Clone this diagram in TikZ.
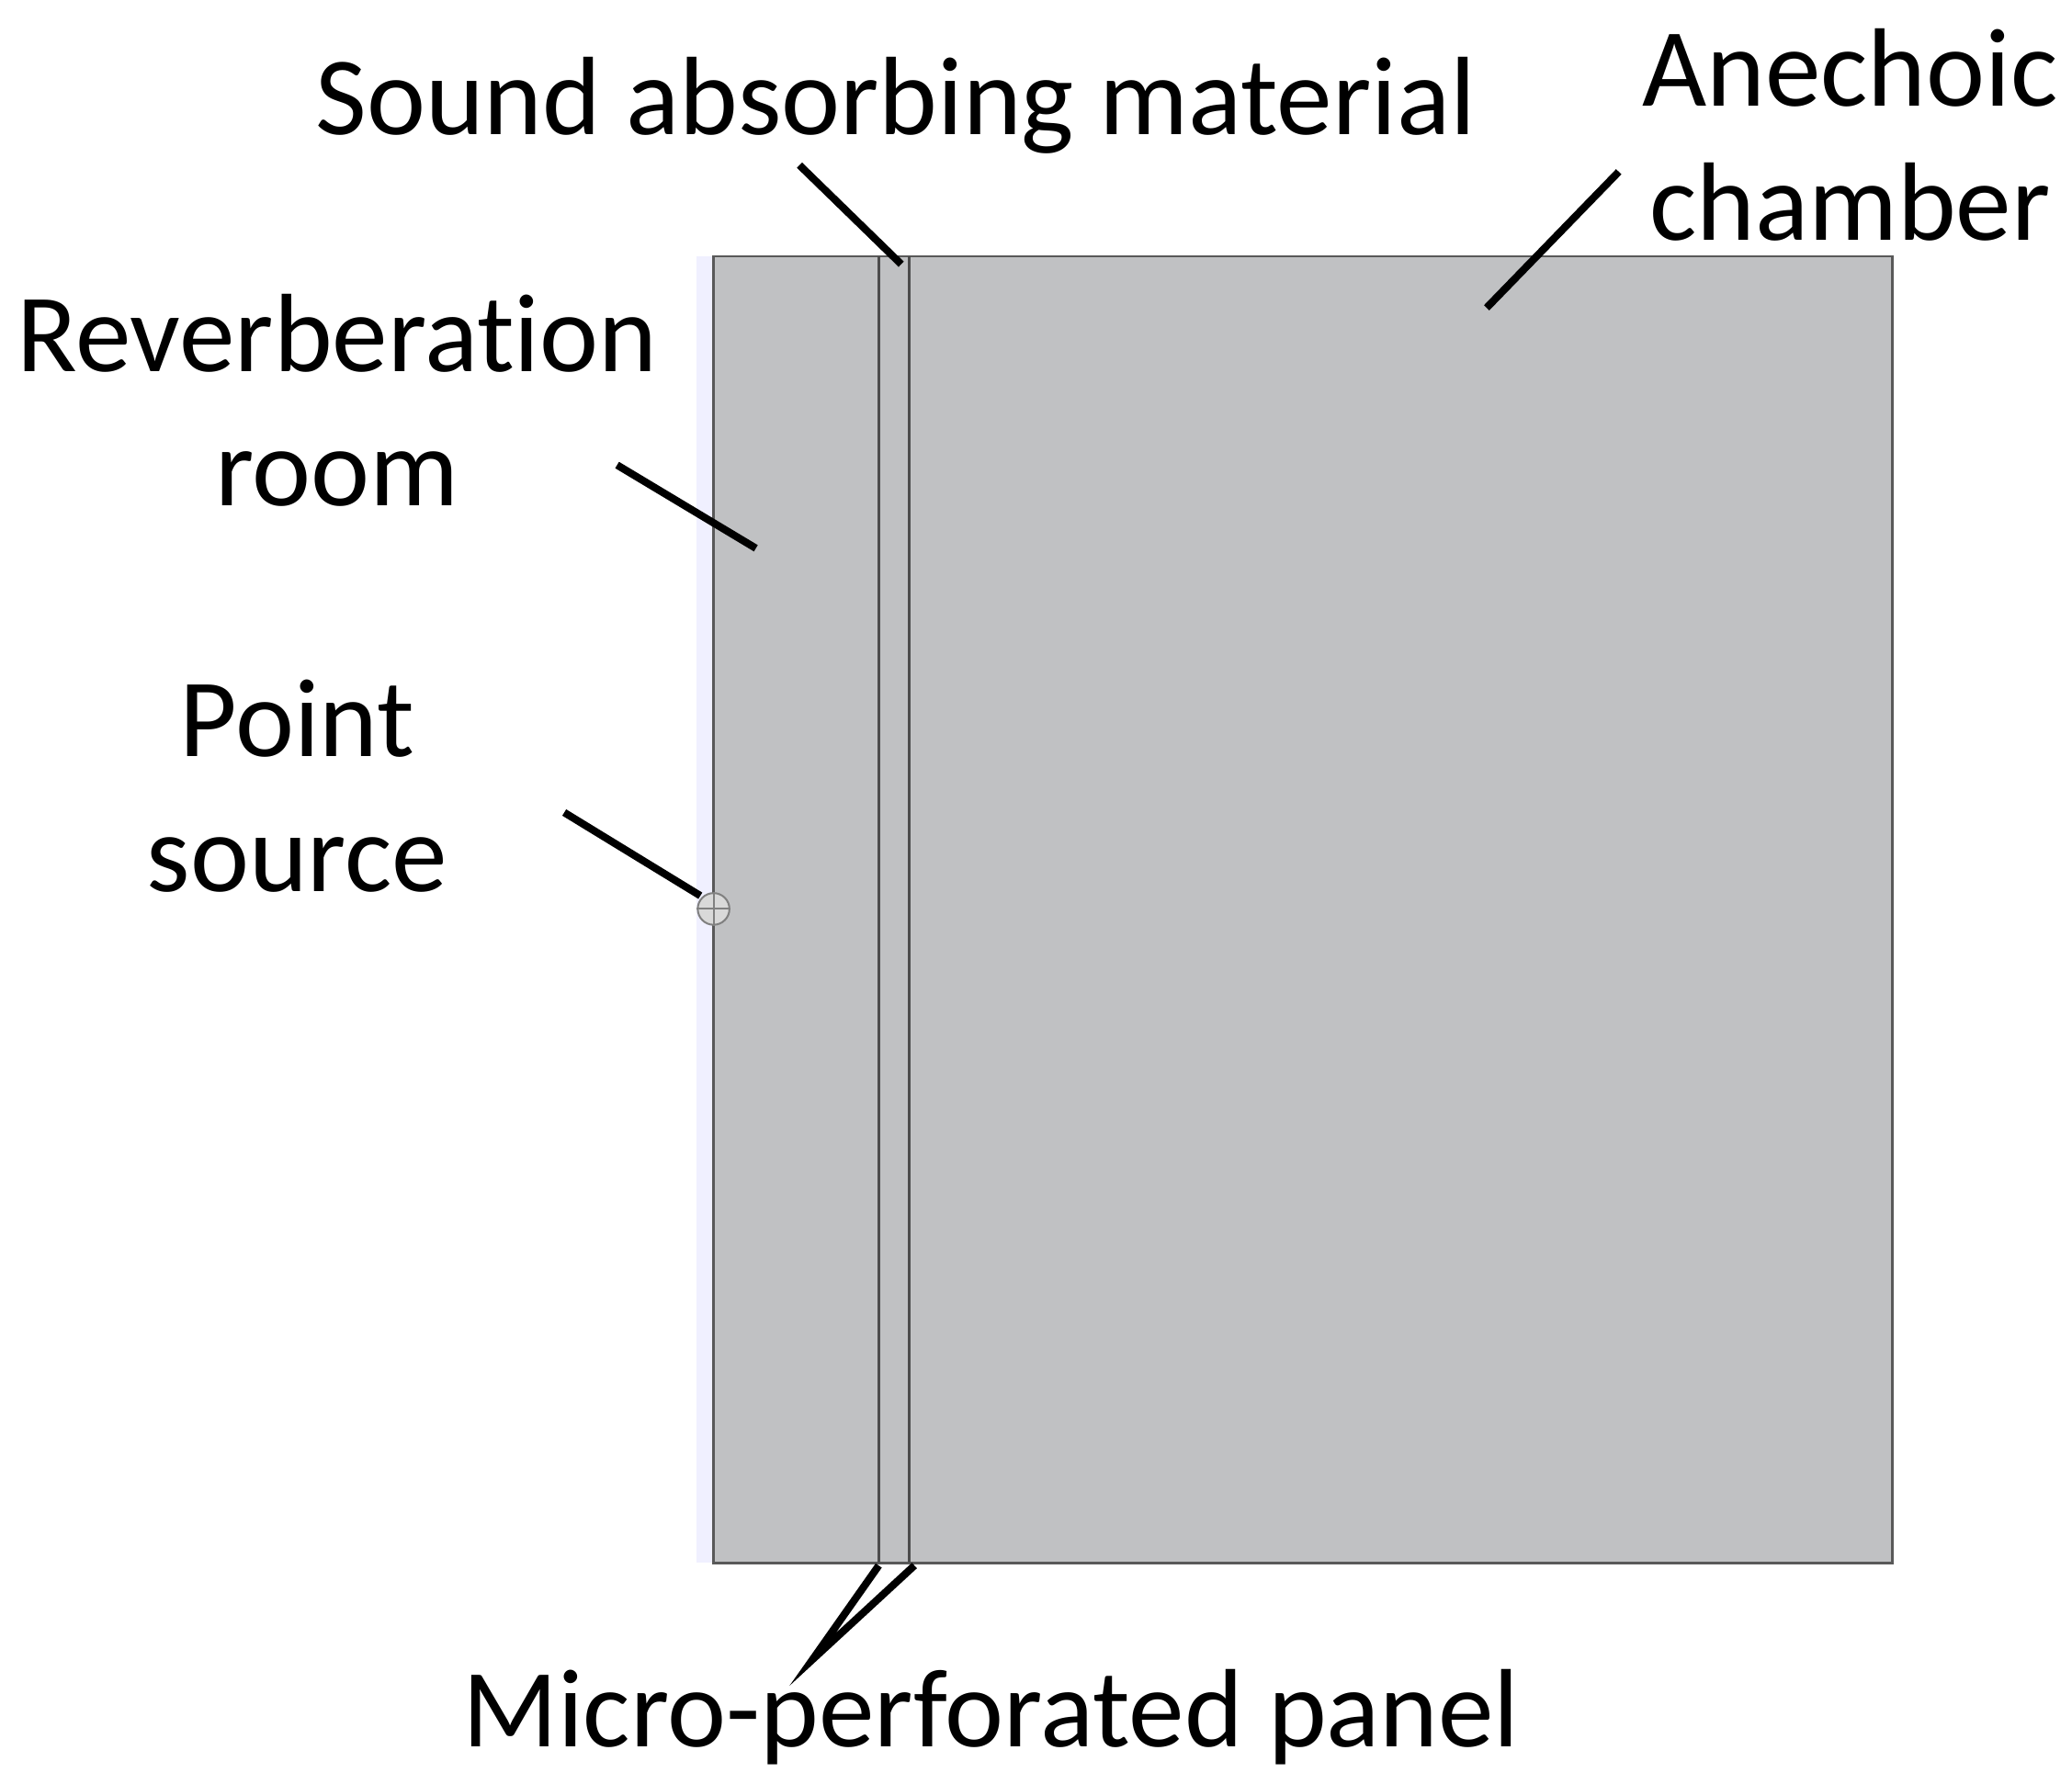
\documentclass[tikz,border=0pt]{standalone}
\usepackage{fontspec}
\setmainfont{Carlito}[Ligatures=NoCommon]
\begin{document}
\begin{tikzpicture}[x=0.1mm,y=-0.1mm,
 lbl/.style={align=center,font=\fontsize{24}{29}\selectfont,inner sep=0pt},
 lead/.style={line width=1.6pt,black}]
\useasboundingbox (0,0) rectangle (1568,1350);
\fill[blue!6] (527,194) rectangle (540,1183);
\filldraw[fill={rgb,255:red,192;green,193;blue,195},draw=gray!70!black,line width=0.5pt] (540,194) rectangle (1432,1183);
\draw[gray!60!black,line width=0.6pt] (665,194) -- (665,1183) (688,194) -- (688,1183);
\node[circle,draw=gray,fill=gray!30,minimum size=2.4mm,inner sep=0pt] (ps) at (540,688) {};
\draw[gray] (ps.west) -- (ps.east) (ps.north) -- (ps.south);
\node[lbl] (sam) at (678,80) {Sound absorbing material};
\node[lbl] (ac) at (1400,102) {Anechoic\\chamber};
\node[lbl] (rr) at (255,303) {Reverberation\\room};
\node[lbl] (pt) at (225,595) {Point\\source};
\node[lbl] (mpp) at (750,1300) {Micro-perforated panel};
\coordinate (a1) at (605,125); \coordinate (a2) at (682,200);
\coordinate (b1) at (1225,130); \coordinate (b2) at (1125,233);
\coordinate (c1) at (467,352); \coordinate (c2) at (572,415);
\coordinate (d1) at (427,615); \coordinate (d2) at (530,678);
\coordinate (e0) at (615,1256); \coordinate (e1) at (665,1185); \coordinate (e2) at (692,1185);
\draw[lead] (a1) -- (a2);
\draw[lead] (b1) -- (b2);
\draw[lead] (c1) -- (c2);
\draw[lead] (d1) -- (d2);
\draw[lead] (e1) -- (e0) -- (e2);
\end{tikzpicture}
\end{document}
